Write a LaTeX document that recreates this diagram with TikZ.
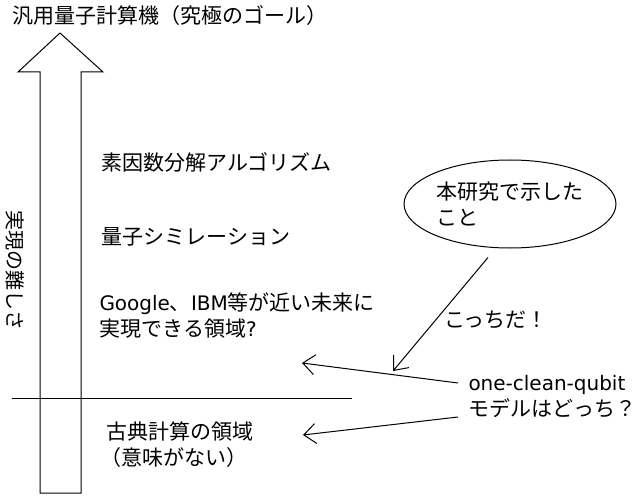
\documentclass[tikz,border=0pt]{standalone}
\usepackage{fontspec}
\setmainfont{Noto Sans CJK JP}
\newfontfamily\lat[Scale=0.952]{DejaVu Sans}
\usetikzlibrary{shapes, arrows.meta, positioning}

\begin{document}
\begin{tikzpicture}[x=1pt, y=-1pt, line width=1pt,
    >={Straight Barb[length=12pt, width=20pt]},
    every node/.style={font=\fontsize{21}{26}\selectfont, inner sep=0pt},
    label/.style={anchor=west, align=left}]
    \useasboundingbox (0,0) rectangle (640,500);

    % difficulty arrow
    \draw[line join=miter] (40,493) -- (40,72) -- (18,72) -- (60,33) -- (103,72) -- (81,72) -- (81,493) -- cycle;
    \draw (12,398) -- (352,398);

    \node[label] (goal) at (12,16) {汎用量子計算機（究極のゴール）};
    \node[rotate=-90, font=\fontsize{20}{24}\selectfont] (difficulty) at (15,270) {実現の難しさ};

    \node[label] (factoring) at (101,162) {素因数分解アルゴリズム};
    \node[label] (simulation) at (101,237) {量子シミレーション};
    \node[label] (nisq) at (99,316) {{\lat Google}、{\lat IBM}等が近い未来に\\実現できる領域{\lat ?}};
    \node[label] (classical) at (106,445) {古典計算の領域\\\kern-6pt（意味がない）};

    \node[draw, ellipse, minimum width=212pt, minimum height=88pt, align=left] (claim) at (510,204) {本研究で示した\\こと};
    \node[label] (qubit) at (468,397) {{\lat one-clean-qubit}\\モデルはどっち？};
    \node (answer) at (496,320) {こっちだ！};

    \coordinate (nisq-end) at (302,363);
    \coordinate (classical-end) at (303,435);
    \coordinate (yes) at (393,371);

    \draw[->] ([xshift=-10pt, yshift=14pt]qubit.west) -- (nisq-end);
    \draw[->] ([xshift=-10pt, yshift=-20pt]qubit.west) -- (classical-end);
    \draw[->] ([xshift=-22pt, yshift=-9pt]claim.south) -- (yes);

\end{tikzpicture}
\end{document}
